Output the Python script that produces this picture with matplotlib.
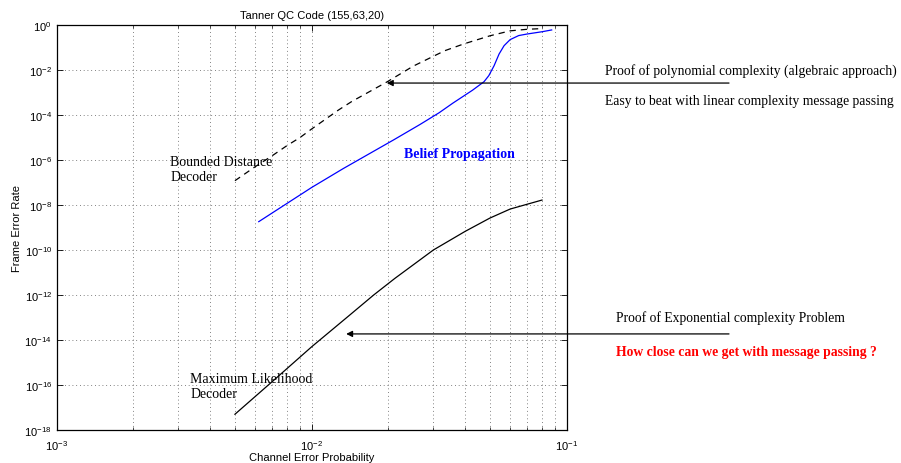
import matplotlib
matplotlib.use("Agg")
import matplotlib.pyplot as plt
import matplotlib.transforms as mtransforms
from matplotlib.ticker import FixedLocator, LogFormatterSciNotation, NullLocator
import numpy as np

plt.rcParams["font.family"] = ["Liberation Sans", "DejaVu Sans"]
plt.rcParams["mathtext.default"] = "regular"

# --- data (FER given as log10 exponents) ---
bdd_p = [0.005, 0.006, 0.007, 0.008, 0.009, 0.010, 0.01273, 0.01436, 0.0198, 0.025,
         0.030, 0.0333, 0.0395, 0.050, 0.060, 0.070, 0.080]
bdd_log_fer = [-6.92, -6.30, -5.81, -5.36, -5.00, -4.62, -3.78, -3.40, -2.52, -1.83,
               -1.39, -1.14, -0.84, -0.48, -0.26, -0.19, -0.16]

bp_p = [0.0062, 0.010, 0.0133, 0.021, 0.0266, 0.0316, 0.0358, 0.0427, 0.0474, 0.0495,
        0.0519, 0.0543, 0.0568, 0.060, 0.0648, 0.070, 0.080, 0.0873]
bp_log_fer = [-8.74, -7.22, -6.38, -5.10, -4.42, -3.90, -3.47, -2.90, -2.52, -2.25,
              -1.81, -1.29, -0.92, -0.65, -0.47, -0.40, -0.30, -0.22]

ml_p = [0.005, 0.007, 0.010, 0.014, 0.0175, 0.0212, 0.030, 0.040, 0.050, 0.060, 0.080]
ml_log_fer = [-17.30, -15.85, -14.30, -12.92, -12.0, -11.26, -10.0, -9.17, -8.58,
              -8.18, -7.78]

y_tick_exps = list(range(-18, 1, 2))

W, H = 901, 464
fig = plt.figure(figsize=(W / 100, H / 100), dpi=100)
ax = fig.add_axes([56.7 / W, 1 - 431 / H, 510 / W, 405 / H])

ax.plot(bdd_p, np.power(10.0, bdd_log_fer), color="k", lw=0.9, ls=(0, (5, 4)))
ax.plot(bp_p, np.power(10.0, bp_log_fer), color="#0000ff", lw=0.9)
ax.plot(ml_p, np.power(10.0, ml_log_fer), color="k", lw=0.9)

ax.set_xscale("log")
ax.set_yscale("log")
ax.set_xlim(1e-3, 1e-1)
ax.set_ylim(1e-18, 1e0)
ax.yaxis.set_major_locator(FixedLocator([10.0 ** e for e in y_tick_exps]))
ax.yaxis.set_major_formatter(LogFormatterSciNotation())
ax.yaxis.set_minor_locator(NullLocator())

ax.tick_params(which="both", direction="in", top=True, right=True, labelsize=8)
ax.tick_params(which="major", length=4, width=0.6)
ax.tick_params(which="minor", length=2, width=0.5)
ax.tick_params(axis="x", pad=6)
for s in ax.spines.values():
    s.set_linewidth(0.9)

grid_kw = dict(color="0.35", lw=0.6, ls=(0, (1, 3.5)))
ax.grid(True, which="major", **grid_kw)
ax.grid(True, which="minor", axis="x", **grid_kw)

ax.set_title("Tanner QC Code (155,63,20)", fontsize=8, pad=5)
ax.set_xlabel("Channel Error Probability", fontsize=8, labelpad=0)
ax.set_ylabel("Frame Error Rate", fontsize=8, labelpad=2)

serif = ["Liberation Serif", "DejaVu Serif"]
ax.text(0.00279, 10 ** -6.38, "Bounded Distance\nDecoder", family=serif, fontsize=10,
        ha="left", va="center", linespacing=1.2)
ax.text(0.00334, 10 ** -16.04, "Maximum Likelihood\nDecoder", family=serif, fontsize=10,
        ha="left", va="center", linespacing=1.2)
ax.text(0.0230, 10 ** -5.70, "Belief Propagation", family=serif, fontsize=10,
        fontweight="bold", color="#0000ff", ha="left", va="center")

# arrows from the right-hand notes into the plot
tail = mtransforms.blended_transform_factory(fig.transFigure, ax.transData)
arrow_kw = dict(arrowstyle="-|>", color="k", lw=0.9, mutation_scale=9,
                shrinkA=0, shrinkB=0)
for x_tip, e_tip in [(0.0197, -2.58), (0.01365, -13.73)]:
    ax.annotate("", xy=(x_tip, 10 ** e_tip), xycoords="data",
                xytext=(729 / W, 10 ** e_tip), textcoords=tail,
                arrowprops=arrow_kw, annotation_clip=False)

note_size = 9.85
fig.text(605 / W, 1 - 71 / H, "Proof of polynomial complexity (algebraic approach)",
         family=serif, fontsize=note_size, va="center")
fig.text(605 / W, 1 - 101 / H, "Easy to beat with linear complexity message passing",
         family=serif, fontsize=note_size, va="center")
fig.text(616 / W, 1 - 318 / H, "Proof of Exponential complexity Problem",
         family=serif, fontsize=note_size, va="center")
fig.text(616 / W, 1 - 353 / H, "How close can we get with message passing ?",
         family=serif, fontsize=note_size, fontweight="bold", color="#ff0000", va="center")

fig.savefig("out.png", dpi=100)
